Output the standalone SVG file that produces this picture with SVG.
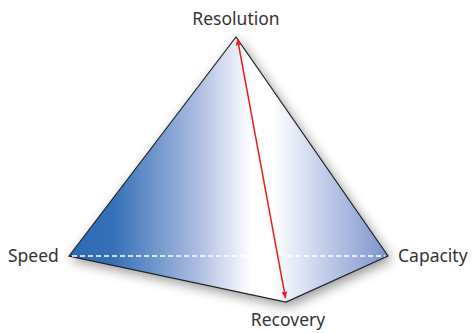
<svg xmlns="http://www.w3.org/2000/svg" width="473" height="333" viewBox="0 0 473 333">
<defs>
<linearGradient id="g" gradientUnits="userSpaceOnUse" x1="69" y1="0" x2="388" y2="0">
<stop offset="0" stop-color="#2a6ab5"/>
<stop offset="0.14" stop-color="#3670b7"/>
<stop offset="0.42" stop-color="#b4c2e3"/>
<stop offset="0.57" stop-color="#ffffff"/>
<stop offset="0.64" stop-color="#ffffff"/>
<stop offset="0.8" stop-color="#c2cdea"/>
<stop offset="1" stop-color="#7d93cc"/>
</linearGradient>
<filter id="sh" x="-20%" y="-20%" width="140%" height="140%">
<feGaussianBlur in="SourceAlpha" stdDeviation="6"/>
<feOffset dx="3" dy="4" result="b"/>
<feComponentTransfer><feFuncA type="linear" slope="0.4"/></feComponentTransfer>
<feMerge><feMergeNode/><feMergeNode in="SourceGraphic"/></feMerge>
</filter>
<marker id="ah" viewBox="0 0 10 10" refX="9" refY="5" markerWidth="7" markerHeight="7" orient="auto-start-reverse" markerUnits="userSpaceOnUse">
<path d="M0,1 L10,5 L0,9 Z" fill="#e8221d"/>
</marker>
<style>
text{font-family:"Noto Sans","Open Sans",sans-serif;font-size:17.5px;fill:#333}
</style>
</defs>
<rect width="473" height="333" fill="#fff"/>
<g id="pyramid">
<polygon points="236,37 69,256 286,302 388,256" fill="url(#g)" stroke="#222" stroke-width="1.2" stroke-linejoin="miter" filter="url(#sh)"/>
</g>
<g id="connectors">
<line x1="72" y1="256" x2="385" y2="256" stroke="#fff" stroke-width="1.4" stroke-dasharray="5,3"/>
<line x1="237.5" y1="39" x2="285.5" y2="298" stroke="#e8221d" stroke-width="1.5" marker-start="url(#ah)" marker-end="url(#ah)"/>
</g>
<g id="label-resolution"><text x="236" y="25" text-anchor="middle">Resolution</text></g>
<g id="label-speed"><text x="8" y="262">Speed</text></g>
<g id="label-capacity"><text x="398" y="262">Capacity</text></g>
<g id="label-recovery"><text x="288" y="326" text-anchor="middle">Recovery</text></g>
</svg>
